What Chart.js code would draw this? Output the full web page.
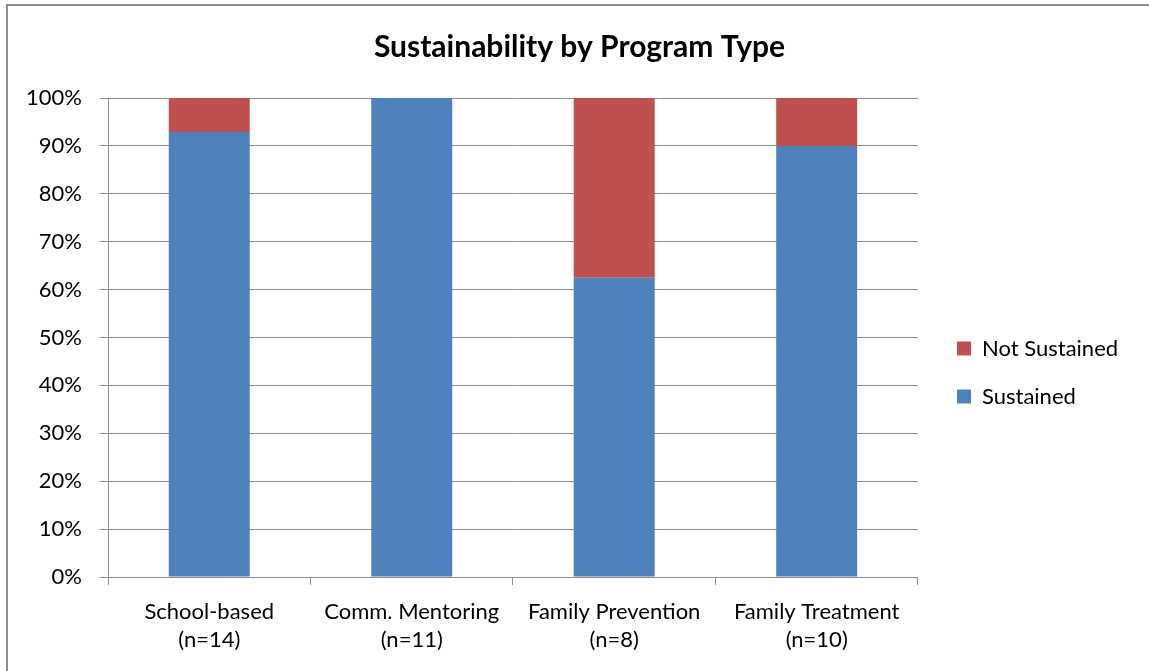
<!DOCTYPE html>
<html>
<head>
<meta charset="utf-8">
<script src="https://cdn.jsdelivr.net/npm/chart.js@4/dist/chart.umd.min.js"></script>
<style>
  html, body { margin: 0; padding: 0; background: #fff; }
  #wrap { position: relative; width: 1149px; height: 671px; overflow: hidden; }
  #frame { position: absolute; left: 6px; top: 4px; width: 1160px; height: 700px; border: 2px solid #8c8c8c; box-sizing: border-box; }
  canvas { position: absolute; left: 0; top: 0; }
</style>
</head>
<body>
<div id="wrap">
  <div id="frame"></div>
  <canvas id="myChart" width="1149" height="671"></canvas>
</div>
<script>
const categories = [
  ['School-based', '(n=14)'],
  ['Comm. Mentoring', '(n=11)'],
  ['Family Prevention', '(n=8)'],
  ['Family Treatment', '(n=10)']
];
const sustained = [92.9, 100, 62.5, 90];
const notSustained = [7.1, 0, 37.5, 10];

const FONT = 'Lato, "Open Sans", sans-serif';

// nudge legend and title to where Excel put them
const nudge = {
  id: 'nudge',
  afterLayout(chart) {
    const lg = chart.legend;
    if (lg) {
      const dx = 957 - (lg.left + 26);
      lg.left += dx; lg.right += dx;
      lg.top += 37; lg.bottom += 37;
    }
    const t = chart.titleBlock;
    if (t) { t.left += 22; t.right += 22; }
  }
};

const config = {
  type: 'bar',
  data: {
    labels: categories,
    datasets: [
      {
        label: 'Sustained',
        data: sustained,
        backgroundColor: '#4F81BD',
        categoryPercentage: 1,
        barPercentage: 0.4
      },
      {
        label: 'Not Sustained',
        data: notSustained,
        backgroundColor: '#C0504D',
        categoryPercentage: 1,
        barPercentage: 0.4
      }
    ]
  },
  options: {
    responsive: false,
    animation: false,
    layout: { padding: { left: 0, right: 34, top: 0, bottom: 0 } },
    plugins: {
      title: {
        display: true,
        text: 'Sustainability by Program Type',
        color: '#000',
        font: { family: FONT, size: 30, weight: 'bold' },
        padding: { top: 29, bottom: 33 }
      },
      legend: {
        position: 'right',
        reverse: true,
        labels: {
          color: '#000',
          font: { family: FONT, size: 22 },
          boxWidth: 14,
          boxHeight: 14,
          padding: 26
        }
      },
      tooltip: { enabled: false }
    },
    scales: {
      x: {
        stacked: true,
        grid: { display: true, drawOnChartArea: false, color: '#8c8c8c', tickLength: 8, offset: true },
        border: { color: '#8c8c8c', width: 1 },
        ticks: { color: '#000', font: { family: FONT, size: 22, lineHeight: 1.27 }, padding: 13, maxRotation: 0, autoSkip: false },
        afterFit: (scale) => { scale.height = 94; }
      },
      y: {
        stacked: true,
        min: 0,
        max: 100,
        grid: { color: '#8c8c8c', tickLength: 8 },
        border: { color: '#8c8c8c', width: 1 },
        ticks: {
          stepSize: 10,
          color: '#000',
          font: { family: FONT, size: 22 },
          padding: 18,
          callback: (value) => value + '%'
        },
        afterFit: (scale) => { scale.width = 108; }
      }
    }
  },
  plugins: [nudge]
};

const myChart = new Chart('myChart', config);
</script>
</body>
</html>
